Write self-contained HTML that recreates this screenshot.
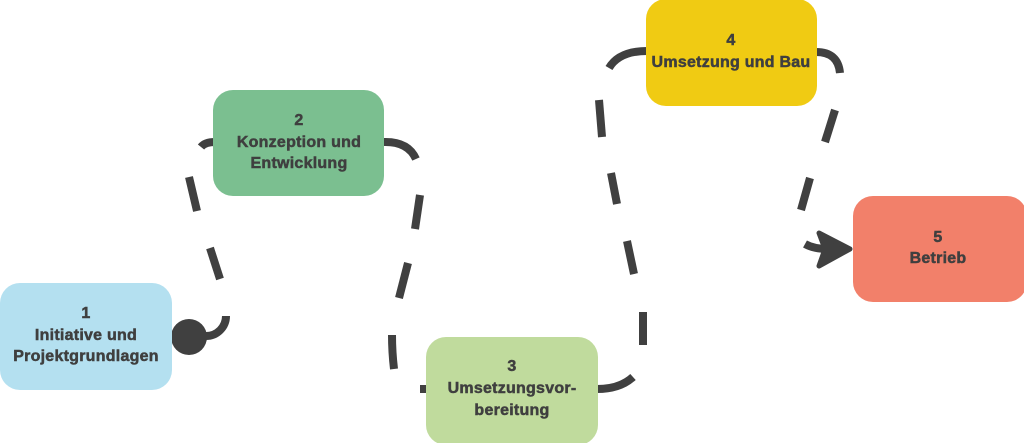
<!DOCTYPE html>
<html>
<head>
<meta charset="utf-8">
<style>
  html, body { margin:0; padding:0; background:#ffffff; }
  body { width:1024px; height:443px; overflow:hidden; position:relative; }
  svg { position:absolute; left:0; top:0; }
  text { font-family:"Liberation Sans", sans-serif; font-weight:bold; font-size:16px; fill:#3f3f3f; stroke:#3f3f3f; stroke-width:0.5px; letter-spacing:0.25px; }
</style>
</head>
<body>
<svg width="1024" height="443" viewBox="0 0 1024 443" xmlns="http://www.w3.org/2000/svg">
  <g fill="none" stroke="#404040" stroke-width="8" stroke-linecap="butt">
    <!-- path 1: box1 -> box2 -->
    <path d="M 206 336 A 20 20 0 0 0 226 316"/>
    <path d="M 220 279 L 210 248"/>
    <path d="M 197 211 L 189 177"/>
    <path d="M 201 147 Q 205 142 215 142"/>
    <!-- path 2: box2 -> box3 -->
    <path d="M 383 142 Q 408 141 416 159"/>
    <path d="M 420 195 L 415 229"/>
    <path d="M 408 263 L 399 298"/>
    <path d="M 392 335 Q 392 352 394 369"/>
    <path d="M 420 389 L 428 389"/>
    <!-- path 3: box3 -> box4 -->
    <path d="M 597 389 Q 620 389 633 377"/>
    <path d="M 643 345 L 643 312"/>
    <path d="M 634 274 L 627 241"/>
    <path d="M 617 204 L 611 173"/>
    <path d="M 602 137 L 599 100"/>
    <path d="M 609 68 Q 619 51 647 51"/>
    <!-- path 4: box4 -> box5 -->
    <path d="M 816 52 Q 838 52 840 73"/>
    <path d="M 835 110 L 825 142"/>
    <path d="M 810 178 L 801 210"/>
    <path d="M 805 244 Q 814 249 828 249"/>
  </g>
  <!-- start circle -->
  <circle cx="189" cy="337" r="18" fill="#404040"/>
  <!-- arrowhead -->
  <path d="M 850 249 L 819 233 L 825 249 L 819 266 Z" fill="#404040" stroke="#404040" stroke-width="5" stroke-linejoin="round"/>

  <!-- boxes -->
  <rect x="0" y="283" width="172" height="107" rx="20" ry="20" fill="#b4e0f0"/>
  <rect x="213" y="90" width="171" height="106" rx="20" ry="20" fill="#7bbf90"/>
  <rect x="426" y="337" width="172" height="108" rx="20" ry="20" fill="#c0db9d"/>
  <rect x="646" y="-1" width="171" height="107" rx="20" ry="20" fill="#f0cb13"/>
  <rect x="853" y="196" width="174" height="106" rx="20" ry="20" fill="#f2806a"/>

  <!-- labels -->
  <text x="86" y="318" text-anchor="middle">1</text>
  <text x="86" y="340" text-anchor="middle">Initiative und</text>
  <text x="86" y="361" text-anchor="middle">Projektgrundlagen</text>

  <text x="299" y="125" text-anchor="middle">2</text>
  <text x="299" y="147" text-anchor="middle">Konzeption und</text>
  <text x="299" y="168" text-anchor="middle">Entwicklung</text>

  <text x="512" y="371" text-anchor="middle">3</text>
  <text x="512" y="393" text-anchor="middle">Umsetzungsvor-</text>
  <text x="512" y="415" text-anchor="middle">bereitung</text>

  <text x="731" y="45" text-anchor="middle">4</text>
  <text x="731" y="67" text-anchor="middle">Umsetzung und Bau</text>

  <text x="938" y="242" text-anchor="middle">5</text>
  <text x="938" y="263" text-anchor="middle">Betrieb</text>
</svg>
</body>
</html>
